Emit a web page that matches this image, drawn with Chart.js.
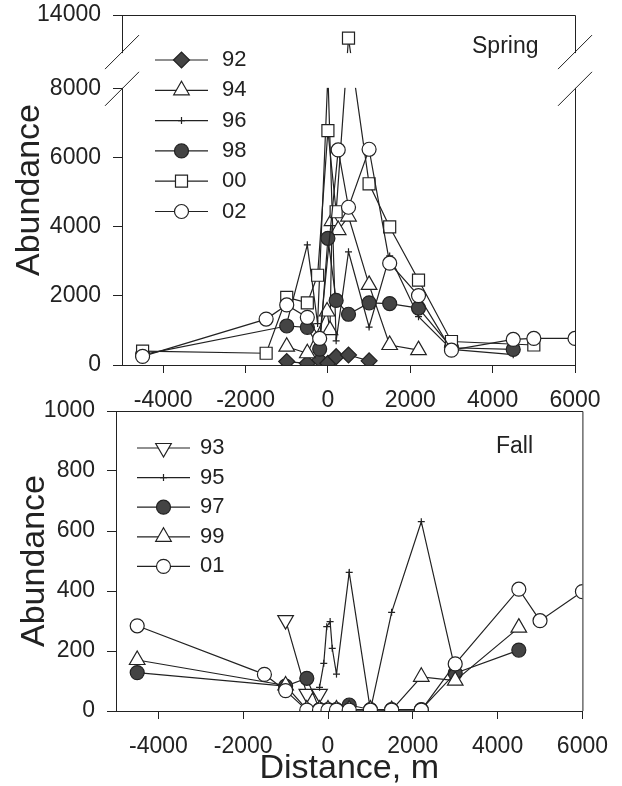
<!DOCTYPE html>
<html>
<head>
<meta charset="utf-8">
<title>Abundance vs distance</title>
<script src="https://cdn.jsdelivr.net/npm/chart.js@4.4.1/dist/chart.umd.min.js"></script>
<style>
  html, body { margin: 0; padding: 0; background: #fff; }
  #wrap { position: relative; width: 622px; height: 786px; }
  canvas { position: absolute; left: 0; }
  #spring { top: 0; }
  #fall { top: 390px; }
</style>
</head>
<body>
<div id="wrap">
  <canvas id="spring" width="622" height="420"></canvas>
  <canvas id="fall" width="622" height="396"></canvas>
</div>
<script>
const INK = '#222';
const FILL = '#444';
Chart.defaults.font.family = "'Liberation Sans', Arial, Helvetica, sans-serif";
Chart.defaults.font.size = 23;
Chart.defaults.color = INK;

// ticks
const distanceTicks = [-4000, -2000, 0, 2000, 4000, 6000];
const springYTicks = [0, 2000, 4000, 6000, 8000, 14000];
const fallYTicks = [0, 200, 400, 600, 800, 1000];

// Spring surveys (distance m, abundance)
const spring92X = [-1000, -500, -200, 0, 200, 500, 1000];
const spring92Y = [100, 50, 150, 50, 240, 290, 120];
const spring94X = [-1000, -500, -20, 50, 100, 250, 500, 1000, 1500, 2200];
const spring94Y = [530, 340, 1550, 1010, 4170, 3910, 4300, 2320, 580, 430];
const spring96X = [-1000, -500, -250, 0, 200, 500, 1000, 1500, 2200, 3000, 4500];
const spring96Y = [1200, 3480, 1200, 8800, 700, 3280, 1100, 3160, 1400, 450, 300];
const spring98X = [-4500, -1000, -500, -200, 0, 200, 500, 1000, 1500, 2200, 3000, 4500];
const spring98Y = [300, 1130, 1090, 460, 3670, 1870, 1470, 1800, 1780, 1650, 500, 450];
const spring00X = [-4500, -1500, -1000, -500, -250, 0, 200, 500, 1000, 1500, 2200, 3000, 5000];
const spring00Y = [400, 340, 1960, 1800, 2600, 6790, 4440, 11500, 5250, 4000, 2460, 680, 580];
const spring02X = [-4500, -1500, -1000, -500, -200, 250, 500, 1000, 1500, 2200, 3000, 4500, 5000, 6000];
const spring02Y = [250, 1330, 1740, 1380, 770, 6230, 4570, 6250, 2950, 2010, 430, 740, 770, 770];

// Fall surveys
const fall93X = [-1000, -500, -200];
const fall93Y = [303, 57, 57];
const fall95X = [-200, -100, -30, 50, 100, 200, 500, 1000, 1500, 2200, 3000];
const fall95Y = [79, 159, 281, 298, 209, 123, 462, 3, 329, 631, 137];
const fall97X = [-4500, -1000, -500, -200, 0, 200, 500, 1000, 1500, 2200, 3000, 4500];
const fall97Y = [128, 83, 109, 5, 5, 5, 20, 5, 5, 5, 126, 203];
const fall99X = [-4500, -1000, -500, -200, 0, 200, 500, 1000, 1500, 2200, 3000, 4500];
const fall99Y = [170, 85, 5, 5, 5, 5, 5, 5, 3, 114, 101, 278];
const fall01X = [-4500, -1500, -1000, -500, -200, 0, 200, 500, 1000, 1500, 2200, 3000, 4500, 5000, 6000];
const fall01Y = [284, 122, 68, 3, 3, 3, 3, 3, 3, 3, 3, 157, 406, 301, 398];

// axis break on the spring panel
const BREAK_LOW = 8000, BREAK_HIGH = 10000;
const LOW_FRAC = 0.789, GAP_FRAC = 0.105;

function brokenDecimal(v, min, max) {
  if (v <= BREAK_LOW) return (v - min) / (BREAK_LOW - min) * LOW_FRAC;
  if (v >= BREAK_HIGH) return LOW_FRAC + GAP_FRAC + (v - BREAK_HIGH) / (max - BREAK_HIGH) * (1 - LOW_FRAC - GAP_FRAC);
  return LOW_FRAC + (v - BREAK_LOW) / (BREAK_HIGH - BREAK_LOW) * GAP_FRAC;
}

class BrokenScale extends Chart.LinearScale {
  getPixelForValue(value) {
    if (value === null || value === undefined || isNaN(value)) return NaN;
    return this.getPixelForDecimal(brokenDecimal(value, this.min, this.max));
  }
  getValueForPixel(pixel) {
    const d = this.getDecimalForPixel(pixel);
    if (d <= LOW_FRAC) return this.min + d / LOW_FRAC * (BREAK_LOW - this.min);
    if (d >= LOW_FRAC + GAP_FRAC) return BREAK_HIGH + (d - LOW_FRAC - GAP_FRAC) / (1 - LOW_FRAC - GAP_FRAC) * (this.max - BREAK_HIGH);
    return BREAK_LOW + (d - LOW_FRAC) / GAP_FRAC * (BREAK_HIGH - BREAK_LOW);
  }
}
BrokenScale.id = 'broken';
BrokenScale.defaults = Chart.LinearScale.defaults;
Chart.register(BrokenScale);

const markers = {
  '92': {shape: 'rectRot', r: 8, filled: true},
  '94': {shape: 'triangle', r: 9, filled: false},
  '96': {shape: 'cross', r: 3.5, filled: false},
  '98': {shape: 'circle', r: 7, filled: true},
  '00': {shape: 'rect', r: 8.5, filled: false},
  '02': {shape: 'circle', r: 7, filled: false},
  '93': {shape: 'triangle', r: 9, filled: false, rot: 180},
  '95': {shape: 'cross', r: 3.5, filled: false},
  '97': {shape: 'circle', r: 7, filled: true},
  '99': {shape: 'triangle', r: 9, filled: false},
  '01': {shape: 'circle', r: 7, filled: false}
};

function series(label, xs, ys, i, n) {
  const m = markers[label];
  return {
    label: label,
    data: xs.map((x, k) => ({x: x, y: ys[k]})),
    showLine: true,
    borderColor: INK,
    borderWidth: 1.2,
    pointStyle: m.shape,
    pointRadius: m.r,
    pointRotation: m.rot || 0,
    pointBackgroundColor: m.filled ? FILL : '#fff',
    pointBorderColor: INK,
    pointBorderWidth: 1.2,
    order: n - i
  };
}

// draws box frame, axis break, legend and season text
function decorPlugin(cfg) {
  return {
    id: 'decor',
    afterDatasetsDraw(chart) {
      const ctx = chart.ctx, a = chart.chartArea;
      ctx.save();
      ctx.strokeStyle = INK;
      ctx.lineWidth = 1;
      ctx.beginPath();
      ctx.moveTo(a.left, a.top + 0.5);
      ctx.lineTo(a.right + 0.5, a.top + 0.5);
      ctx.lineTo(a.right + 0.5, a.bottom);
      ctx.stroke();
      if (cfg.broken) {
        const y = chart.scales.y;
        const yHi = y.getPixelForValue(BREAK_HIGH), yLo = y.getPixelForValue(BREAK_LOW);
        ctx.fillStyle = '#fff';
        ctx.fillRect(a.left - 1.5, yHi + 1, a.right - a.left + 3, yLo - yHi - 2);
        ctx.beginPath();
        [a.left, a.right].forEach(x => {
          [yHi, yLo].forEach(yy => {
            ctx.moveTo(x - 17, yy + 17);
            ctx.lineTo(x + 17, yy - 17);
          });
        });
        ctx.stroke();
      }
      ctx.restore();
    },
    afterDraw(chart) {
      const ctx = chart.ctx, L = cfg.legend;
      ctx.save();
      chart.data.datasets.forEach((ds, i) => {
        const y = L.y0 + i * L.dy;
        ctx.strokeStyle = INK;
        ctx.lineWidth = 1.2;
        ctx.beginPath();
        ctx.moveTo(L.x1, y);
        ctx.lineTo(L.x2, y);
        ctx.stroke();
        ctx.fillStyle = ds.pointBackgroundColor;
        Chart.helpers.drawPoint(ctx, {
          pointStyle: ds.pointStyle, radius: ds.pointRadius,
          rotation: ds.pointRotation, borderWidth: 1.2
        }, (L.x1 + L.x2) / 2, y);
        ctx.fillStyle = INK;
        ctx.font = "22px 'Liberation Sans', Arial, sans-serif";
        ctx.textBaseline = 'middle';
        ctx.textAlign = 'left';
        ctx.fillText(ds.label, L.tx, y);
      });
      ctx.font = "23px 'Liberation Sans', Arial, sans-serif";
      ctx.textBaseline = 'middle';
      ctx.fillText(cfg.season, cfg.seasonX, cfg.seasonY);
      ctx.restore();
    }
  };
}

const titleFont = {size: 34, lineHeight: 1};

function xAxis(height, withTitle) {
  return {
    type: 'linear', min: -5000, max: 6000,
    afterBuildTicks: s => { s.ticks = distanceTicks.map(v => ({value: v})); },
    afterFit: s => { s.height = height; },
    ticks: {callback: v => String(v), padding: 14, autoSkip: false, maxRotation: 0},
    grid: {drawOnChartArea: false, drawTicks: true, tickLength: 8, color: INK},
    border: {display: true, color: INK, width: 1},
    title: {display: withTitle, text: 'Distance, m', font: titleFont, padding: {top: 0, bottom: 0}}
  };
}

function yAxis(type, max, tickList, width, titlePad) {
  return {
    type: type, min: 0, max: max,
    afterBuildTicks: s => { s.ticks = tickList.map(v => ({value: v})); },
    afterFit: s => { s.width = width; s.paddingTop = 0; s.paddingBottom = 0; },
    ticks: {callback: v => String(v), padding: 12, autoSkip: false},
    grid: {drawOnChartArea: false, drawTicks: true, tickLength: 9, color: INK},
    border: {display: true, color: INK, width: 1},
    title: {display: true, text: 'Abundance', font: titleFont, padding: {top: titlePad, bottom: 0}}
  };
}

const springSets = [
  ['92', spring92X, spring92Y], ['94', spring94X, spring94Y], ['96', spring96X, spring96Y],
  ['98', spring98X, spring98Y], ['00', spring00X, spring00Y], ['02', spring02X, spring02Y]
];
const fallSets = [
  ['93', fall93X, fall93Y], ['95', fall95X, fall95Y], ['97', fall97X, fall97Y],
  ['99', fall99X, fall99Y], ['01', fall01X, fall01Y]
];

new Chart(document.getElementById('spring'), {
  type: 'scatter',
  data: {datasets: springSets.map((s, i) => series(s[0], s[1], s[2], i, springSets.length))},
  options: {
    responsive: false,
    animation: false,
    layout: {padding: {top: 15, right: 47, left: 0, bottom: 0}},
    plugins: {legend: {display: false}, tooltip: {enabled: false}},
    scales: {
      x: xAxis(55, false),
      y: yAxis('broken', 14000, springYTicks, 122, 13)
    }
  },
  plugins: [decorPlugin({
    broken: true,
    legend: {x1: 155, x2: 208, tx: 222, y0: 60, dy: 30.3},
    season: 'Spring', seasonX: 472, seasonY: 47
  })]
});

new Chart(document.getElementById('fall'), {
  type: 'scatter',
  data: {datasets: fallSets.map((s, i) => series(s[0], s[1], s[2], i, fallSets.length))},
  options: {
    responsive: false,
    animation: false,
    layout: {padding: {top: 21, right: 39, left: 0, bottom: 0}},
    plugins: {legend: {display: false}, tooltip: {enabled: false}},
    scales: {
      x: xAxis(75, true),
      y: yAxis('linear', 1000, fallYTicks, 116, 18)
    }
  },
  plugins: [decorPlugin({
    broken: false,
    legend: {x1: 137, x2: 190, tx: 200, y0: 58, dy: 29.6},
    season: 'Fall', seasonX: 496, seasonY: 57
  })]
});
</script>
</body>
</html>
